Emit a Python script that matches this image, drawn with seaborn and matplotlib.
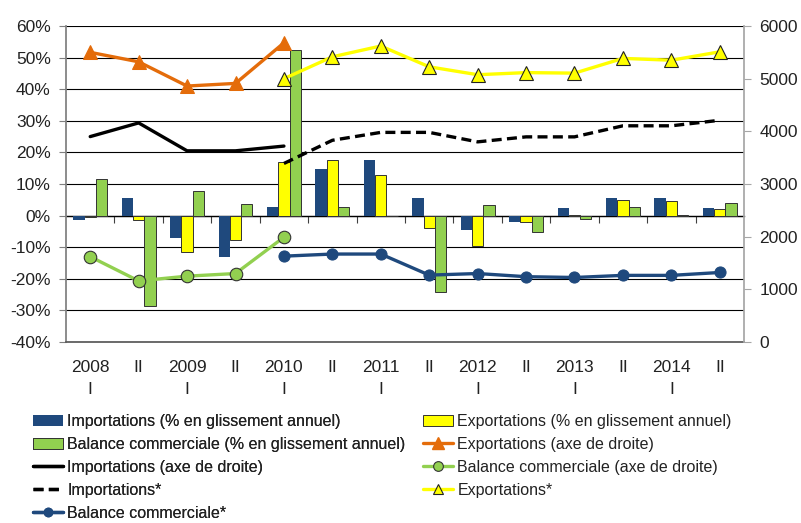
import numpy as np
import pandas as pd
import matplotlib
matplotlib.use("Agg")
import matplotlib.pyplot as plt
import seaborn as sns
from matplotlib.lines import Line2D
from matplotlib.patches import Patch

nan = np.nan

# Périodes (semestres)
periodes = ["2008\nI", "II", "2009\nI", "II", "2010\nI", "II", "2011\nI", "II",
            "2012\nI", "II", "2013\nI", "II", "2014\nI", "II"]

# Barres : % en glissement annuel (axe de gauche)
imp_gliss = [-1.3, 5.5, -7.2, -13.1, 2.7, 14.6, 17.5, 5.5, -4.6, -2.1, 2.5, 5.5, 5.5, 2.5]
exp_gliss = [-0.5, -1.3, -11.6, -7.8, 16.9, 17.7, 12.7, -3.8, -9.6, -2.1, 0.3, 5.0, 4.6, 2.1]
bal_gliss = [11.6, -28.5, 7.9, 3.7, 52.5, 2.6, -0.2, -24.3, 3.2, -5.1, -1.0, 2.7, 0.2, 4.1]

# Lignes (axe de droite)
exp_droite = [5500, 5320, 4860, 4910, 5680, nan, nan, nan, nan, nan, nan, nan, nan, nan]
imp_droite = [3900, 4160, 3630, 3630, 3720, nan, nan, nan, nan, nan, nan, nan, nan, nan]
bal_droite = [1620, 1160, 1250, 1300, 1990, nan, nan, nan, nan, nan, nan, nan, nan, nan]
imp_etoile = [nan, nan, nan, nan, 3390, 3830, 3980, 3980, 3800, 3895, 3895, 4105, 4105, 4210]
exp_etoile = [nan, nan, nan, nan, 5000, 5415, 5620, 5225, 5075, 5115, 5105, 5385, 5350, 5510]
bal_etoile = [nan, nan, nan, nan, 1630, 1670, 1670, 1270, 1300, 1240, 1225, 1265, 1265, 1320]

BLEU = "#1F497D"
JAUNE = "#FFFF00"
VERT = "#92D050"
ORANGE = "#E46C0A"
TEXTE = "#222222"

sns.set_theme(style="white")
plt.rcParams["font.family"] = ["Liberation Sans", "DejaVu Sans"]

noms = ["Importations (% en glissement annuel)",
        "Exportations (% en glissement annuel)",
        "Balance commerciale (% en glissement annuel)"]
df = pd.DataFrame({
    "periode": list(range(len(periodes))) * 3,
    "valeur": imp_gliss + exp_gliss + bal_gliss,
    "serie": [noms[0]] * 14 + [noms[1]] * 14 + [noms[2]] * 14,
})

fig = plt.figure(figsize=(8.01, 5.23), dpi=100)
ax = fig.add_axes([66 / 801, 1 - 342 / 523, (744 - 66) / 801, (342 - 26) / 523])

sns.barplot(data=df, x="periode", y="valeur", hue="serie", hue_order=noms,
            palette=[BLEU, JAUNE, VERT], width=0.7, saturation=1, legend=False, ax=ax)
for cont, ec in zip(ax.containers, ["none", "#333333", "#333333"]):
    for p in cont:
        p.set_edgecolor(ec)
        p.set_linewidth(0.7)

ax.set_xlim(-0.5, 13.5)
ax.set_ylim(-40, 60)
ax.set_yticks(np.arange(-40, 61, 10))
ax.set_yticklabels([f"{v}%" for v in range(-40, 61, 10)])
ax.set_xticks(range(len(periodes)))
ax.set_xticklabels(periodes, linespacing=1.6)
ax.set_xlabel("")
ax.set_ylabel("")
ax.set_axisbelow(True)
ax.yaxis.grid(True, color="black", lw=0.8)
ax.xaxis.grid(False)
ax.tick_params(axis="x", length=0, pad=13, labelsize=12.5, colors=TEXTE)
ax.tick_params(axis="y", length=5, width=0.8, color="#7f7f7f", direction="out",
               pad=6, labelsize=12.5, labelcolor=TEXTE)
ax.spines["top"].set_visible(False)
ax.spines["right"].set_visible(False)
ax.spines["left"].set_color("#7f7f7f")
ax.spines["bottom"].set_color("#595959")

# axe des catégories placé sur 0 %
axe0 = ax.secondary_xaxis(0.4)
axe0.set_xticks(np.arange(0.5, 13, 1))
axe0.set_xticklabels([])
axe0.tick_params(axis="x", length=5, width=0.8, color="#404040", direction="out")
axe0.spines["bottom"].set_color(TEXTE)
axe0.spines["bottom"].set_linewidth(1)

ax2 = ax.twinx()
pos = np.arange(len(periodes))
sns.lineplot(x=pos, y=exp_droite, ax=ax2, color=ORANGE, lw=2.4, marker="^",
             markersize=10, markeredgecolor=ORANGE)
sns.lineplot(x=pos, y=imp_droite, ax=ax2, color="black", lw=2.4)
sns.lineplot(x=pos, y=bal_droite, ax=ax2, color=VERT, lw=2.4, marker="o",
             markersize=9, markeredgecolor="#333333", markeredgewidth=0.8)
sns.lineplot(x=pos, y=imp_etoile, ax=ax2, color="black", lw=2.4, linestyle=(0, (3, 1.6)))
sns.lineplot(x=pos, y=exp_etoile, ax=ax2, color=JAUNE, lw=2.4, marker="^",
             markersize=10, markeredgecolor=TEXTE, markeredgewidth=0.8)
sns.lineplot(x=pos, y=bal_etoile, ax=ax2, color=BLEU, lw=2.4, marker="o",
             markersize=8, markeredgecolor=BLEU)
ax2.set_ylim(0, 6000)
ax2.set_yticks(range(0, 6001, 1000))
ax2.set_ylabel("")
ax2.tick_params(axis="y", length=5, width=0.8, color="#a6a6a6", direction="out",
                pad=6, labelsize=12.5, labelcolor=TEXTE)
for s in ["top", "left", "bottom"]:
    ax2.spines[s].set_visible(False)
ax2.spines["right"].set_color("#a6a6a6")
ax2.grid(False)

# Légende (deux colonnes)
h_imp = Patch(facecolor=BLEU, edgecolor="none")
h_exp = Patch(facecolor=JAUNE, edgecolor="#333333", lw=0.7)
h_bal = Patch(facecolor=VERT, edgecolor="#333333", lw=0.7)
h_expd = Line2D([], [], color=ORANGE, lw=2.4, marker="^", markersize=8)
h_impd = Line2D([], [], color="black", lw=2.4)
h_bald = Line2D([], [], color=VERT, lw=2.4, marker="o", markersize=7,
                markeredgecolor="#333333", markeredgewidth=0.8)
h_impe = Line2D([], [], color="black", lw=2.4, linestyle=(0, (3, 1.6)))
h_expe = Line2D([], [], color=JAUNE, lw=2.4, marker="^", markersize=7,
                markeredgecolor=TEXTE, markeredgewidth=0.8)
h_bale = Line2D([], [], color=BLEU, lw=2.4, marker="o", markersize=6)

opts = dict(loc="upper left", frameon=False, fontsize=11.5, handlelength=1.9,
            handletextpad=0.25, labelspacing=0.5, borderpad=0, borderaxespad=0,
            labelcolor=TEXTE)
leg1 = fig.legend([h_imp, h_bal, h_impd, h_impe, h_bale],
                  [noms[0], noms[2], "Importations (axe de droite)", "Importations*",
                   "Balance commerciale*"],
                  bbox_to_anchor=(33 / 801, 1 - 414 / 523), **opts)
fig.legend([h_exp, h_expd, h_bald, h_expe],
           [noms[1], "Exportations (axe de droite)",
            "Balance commerciale (axe de droite)", "Exportations*"],
           bbox_to_anchor=(423 / 801, 1 - 414 / 523), **opts)
fig.add_artist(leg1)

fig.savefig("out.png", dpi=100)
